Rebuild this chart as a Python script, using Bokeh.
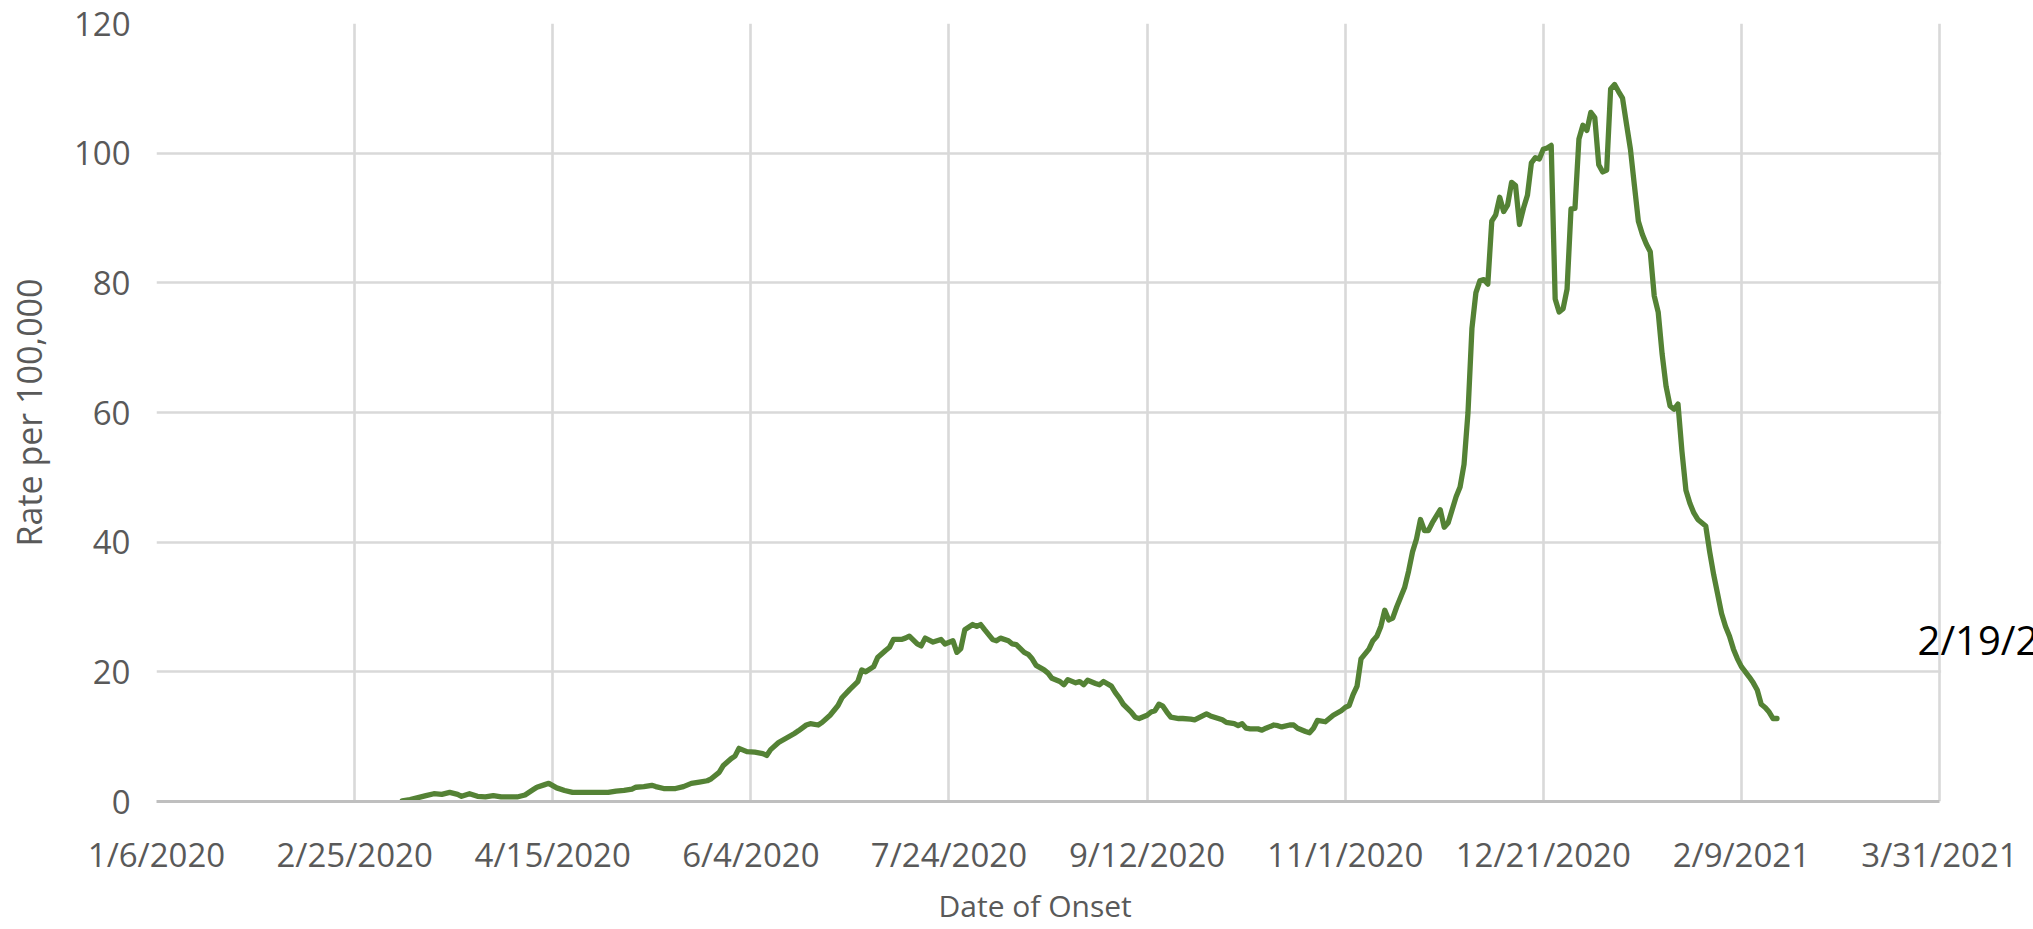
import pandas as pd
from bokeh.plotting import figure
from bokeh.models import Range1d, FixedTicker, Label, ColumnDataSource, BoxAnnotation, Title
from bokeh.embed import file_html
from bokeh.resources import INLINE

# ---------------- data ----------------
onset_dates = [
    "2020-03-08", "2020-03-10", "2020-03-12", "2020-03-14", "2020-03-16", "2020-03-18",
    "2020-03-20", "2020-03-22", "2020-03-23", "2020-03-25", "2020-03-27", "2020-03-29",
    "2020-03-31", "2020-04-02", "2020-04-04", "2020-04-06", "2020-04-08", "2020-04-10",
    "2020-04-11", "2020-04-13", "2020-04-14", "2020-04-16", "2020-04-18", "2020-04-20",
    "2020-04-23", "2020-04-26", "2020-04-29", "2020-05-01", "2020-05-03", "2020-05-05",
    "2020-05-06", "2020-05-08", "2020-05-10", "2020-05-11", "2020-05-13", "2020-05-16",
    "2020-05-18", "2020-05-20", "2020-05-22", "2020-05-24", "2020-05-25", "2020-05-27",
    "2020-05-28", "2020-05-30", "2020-05-31", "2020-06-01", "2020-06-03", "2020-06-05",
    "2020-06-07", "2020-06-08", "2020-06-09", "2020-06-11", "2020-06-13", "2020-06-15",
    "2020-06-16", "2020-06-18", "2020-06-19", "2020-06-21", "2020-06-22", "2020-06-24",
    "2020-06-26", "2020-06-27", "2020-06-29", "2020-07-01", "2020-07-02", "2020-07-03",
    "2020-07-05", "2020-07-06", "2020-07-08", "2020-07-09", "2020-07-10", "2020-07-12",
    "2020-07-13", "2020-07-14", "2020-07-16", "2020-07-17", "2020-07-18", "2020-07-20",
    "2020-07-22", "2020-07-23", "2020-07-25", "2020-07-26", "2020-07-27", "2020-07-28",
    "2020-07-30", "2020-07-31", "2020-08-01", "2020-08-02", "2020-08-04", "2020-08-05",
    "2020-08-06", "2020-08-08", "2020-08-09", "2020-08-10", "2020-08-12", "2020-08-13",
    "2020-08-14", "2020-08-15", "2020-08-17", "2020-08-18", "2020-08-19", "2020-08-21",
    "2020-08-22", "2020-08-23", "2020-08-25", "2020-08-26", "2020-08-27", "2020-08-28",
    "2020-08-30", "2020-08-31", "2020-09-01", "2020-09-03", "2020-09-04", "2020-09-05",
    "2020-09-06", "2020-09-08", "2020-09-09", "2020-09-10", "2020-09-12", "2020-09-13",
    "2020-09-14", "2020-09-15", "2020-09-16", "2020-09-17", "2020-09-18", "2020-09-20",
    "2020-09-21", "2020-09-23", "2020-09-24", "2020-09-26", "2020-09-27", "2020-09-28",
    "2020-09-30", "2020-10-01", "2020-10-02", "2020-10-04", "2020-10-05", "2020-10-06",
    "2020-10-07", "2020-10-08", "2020-10-10", "2020-10-11", "2020-10-12", "2020-10-14",
    "2020-10-15", "2020-10-16", "2020-10-18", "2020-10-19", "2020-10-20", "2020-10-22",
    "2020-10-23", "2020-10-24", "2020-10-25", "2020-10-27", "2020-10-28", "2020-10-29",
    "2020-10-31", "2020-11-01", "2020-11-02", "2020-11-03", "2020-11-04", "2020-11-05",
    "2020-11-07", "2020-11-08", "2020-11-09", "2020-11-10", "2020-11-11", "2020-11-12",
    "2020-11-13", "2020-11-14", "2020-11-15", "2020-11-16", "2020-11-17", "2020-11-18",
    "2020-11-19", "2020-11-20", "2020-11-21", "2020-11-22", "2020-11-23", "2020-11-24",
    "2020-11-25", "2020-11-26", "2020-11-27", "2020-11-28", "2020-11-29", "2020-11-30",
    "2020-12-01", "2020-12-02", "2020-12-03", "2020-12-04", "2020-12-05", "2020-12-06",
    "2020-12-07", "2020-12-08", "2020-12-09", "2020-12-10", "2020-12-11", "2020-12-12",
    "2020-12-13", "2020-12-14", "2020-12-15", "2020-12-16", "2020-12-17", "2020-12-18",
    "2020-12-19", "2020-12-20", "2020-12-21", "2020-12-22", "2020-12-23", "2020-12-24",
    "2020-12-25", "2020-12-26", "2020-12-27", "2020-12-28", "2020-12-29", "2020-12-30",
    "2020-12-31", "2021-01-01", "2021-01-02", "2021-01-03", "2021-01-04", "2021-01-05",
    "2021-01-06", "2021-01-07", "2021-01-08", "2021-01-09", "2021-01-10", "2021-01-11",
    "2021-01-12", "2021-01-13", "2021-01-14", "2021-01-15", "2021-01-16", "2021-01-17",
    "2021-01-18", "2021-01-19", "2021-01-20", "2021-01-21", "2021-01-22", "2021-01-23",
    "2021-01-24", "2021-01-25", "2021-01-26", "2021-01-27", "2021-01-28", "2021-01-29",
    "2021-01-30", "2021-01-31", "2021-02-01", "2021-02-02", "2021-02-03", "2021-02-04",
    "2021-02-05", "2021-02-06", "2021-02-07", "2021-02-08", "2021-02-09", "2021-02-10",
    "2021-02-11", "2021-02-12", "2021-02-13", "2021-02-14", "2021-02-15", "2021-02-16",
    "2021-02-17", "2021-02-18",
]

rate_per_100k = [
    0.1, 0.3, 0.6, 0.9, 1.2, 1.1,
    1.4, 1.1, 0.8, 1.2, 0.8, 0.7,
    0.9, 0.7, 0.7, 0.7, 1.0, 1.8,
    2.2, 2.6, 2.8, 2.1, 1.7, 1.4,
    1.4, 1.4, 1.4, 1.6, 1.7, 1.9,
    2.2, 2.3, 2.5, 2.3, 2.0, 2.0,
    2.3, 2.8, 3.0, 3.2, 3.5, 4.5,
    5.5, 6.6, 7.0, 8.2, 7.7, 7.6,
    7.4, 7.1, 8.0, 9.1, 9.8, 10.5,
    10.9, 11.8, 12.0, 11.8, 12.2, 13.3,
    14.8, 16.0, 17.3, 18.5, 20.3, 20.0,
    20.8, 22.2, 23.3, 23.8, 25.0, 25.0,
    25.2, 25.5, 24.3, 24.0, 25.2, 24.6,
    25.0, 24.3, 24.8, 23.0, 23.6, 26.5,
    27.3, 27.0, 27.3, 26.5, 25.0, 24.8,
    25.2, 24.8, 24.3, 24.2, 23.0, 22.7,
    22.0, 21.0, 20.3, 19.8, 19.0, 18.5,
    18.0, 18.8, 18.3, 18.5, 18.0, 18.7,
    18.2, 18.0, 18.5, 17.8, 16.8, 16.0,
    15.0, 13.8, 13.0, 12.8, 13.3, 13.8,
    14.0, 15.0, 14.7, 13.8, 13.0, 12.8,
    12.8, 12.7, 12.6, 13.2, 13.5, 13.2,
    12.8, 12.6, 12.2, 12.0, 11.7, 12.0,
    11.3, 11.2, 11.2, 11.0, 11.3, 11.8,
    11.7, 11.5, 11.8, 11.8, 11.3, 10.8,
    10.6, 11.3, 12.5, 12.3, 12.8, 13.3,
    14.0, 14.5, 14.8, 16.5, 17.8, 22.0,
    23.5, 24.8, 25.5, 27.0, 29.5, 28.0,
    28.3, 30.0, 31.5, 33.0, 35.5, 38.5,
    40.5, 43.5, 41.8, 41.8, 43.0, 44.0,
    45.0, 42.3, 43.0, 45.0, 47.0, 48.5,
    52.0, 60.0, 73.0, 78.5, 80.3, 80.5,
    79.8, 89.5, 90.5, 93.2, 91.0, 92.0,
    95.5, 95.0, 89.0, 91.5, 93.5, 98.5,
    99.3, 99.1, 100.6, 100.8, 101.2, 77.5,
    75.5, 76.0, 79.0, 91.4, 91.5, 102.2,
    104.3, 103.5, 106.3, 105.5, 98.2, 97.1,
    97.4, 109.9, 110.6, 109.5, 108.5, 104.5,
    100.6, 95.0, 89.5, 87.5, 86.0, 84.8,
    78.0, 75.5, 69.0, 64.0, 61.0, 60.5,
    61.3, 54.0, 48.0, 46.0, 44.5, 43.5,
    43.0, 42.5, 38.5, 35.0, 32.0, 29.0,
    27.0, 25.5, 23.5, 22.0, 20.8, 20.0,
    19.2, 18.3, 17.2, 15.0, 14.5, 13.8,
    12.8, 12.8,
]

x_tick_labels = ["1/6/2020", "2/25/2020", "4/15/2020", "6/4/2020", "7/24/2020",
                 "9/12/2020", "11/1/2020", "12/21/2020", "2/9/2021", "3/31/2021"]
y_ticks = [0, 20, 40, 60, 80, 100, 120]
note_text = "2/19/2021"

# ---------------- build ----------------
dates = pd.to_datetime(onset_dates)
src = ColumnDataSource(dict(date=dates, rate=rate_per_100k))

tick_ms = [float(pd.Timestamp(pd.to_datetime(t, format="%m/%d/%Y")).value / 1e6)
           for t in x_tick_labels]
overrides = {tk: lab for tk, lab in zip(tick_ms, x_tick_labels)}

W, H = 2033, 929
LEFT, TOP, BOTTOM = 156, 23, 128
PLOT_W = 1783                     # pixels from first to last date tick
DAY_MS = 86400000.0
ms_per_px = (tick_ms[-1] - tick_ms[0]) / PLOT_W
x_end = tick_ms[0] + (W - LEFT) * ms_per_px   # frame runs to the right page edge

FONT = "Open Sans"
GREY = "#595959"

p = figure(width=W, height=H, x_axis_type="datetime",
           output_backend="svg", toolbar_location=None,
           x_range=Range1d(tick_ms[0], x_end),
           y_range=Range1d(y_ticks[0], y_ticks[-1]),
           min_border_left=LEFT, min_border_right=0,
           min_border_top=TOP, min_border_bottom=BOTTOM)
p.outline_line_color = None
p.background_fill_color = "white"
p.border_fill_color = "white"

p.line(x="date", y="rate", source=src, line_color="#548235",
       line_width=5.3, line_join="round", line_cap="round")

xt = FixedTicker(ticks=tick_ms)
p.xaxis.ticker = xt
p.xaxis.major_label_overrides = overrides
p.xaxis.bounds = (tick_ms[0], tick_ms[-1])
p.xgrid.ticker = xt
yt = FixedTicker(ticks=y_ticks)
p.yaxis.ticker = yt
p.ygrid.ticker = yt

for g in (p.xgrid, p.ygrid):
    g.grid_line_color = "#d9d9d9"
    g.grid_line_width = 2.6

for ax in (p.xaxis, p.yaxis):
    ax.major_tick_line_color = None
    ax.minor_tick_line_color = None
    ax.major_tick_out = 0
    ax.major_tick_in = 0
    ax.major_label_text_font = FONT
    ax.major_label_text_font_size = "33px"
    ax.major_label_text_color = GREY
    ax.axis_label_text_font = FONT
    ax.axis_label_text_color = GREY
    ax.axis_label_text_font_style = "normal"

p.xaxis.axis_line_color = "#bfbfbf"
p.xaxis.axis_line_width = 3
p.xaxis.major_label_standoff = 30

p.yaxis.axis_line_color = None
p.yaxis.major_label_standoff = 26
p.yaxis.axis_label = "Rate per 100,000"
p.yaxis.axis_label_text_font_size = "34px"
p.yaxis.axis_label_standoff = 19

# x-axis title, centred under the dated part of the axis
x_title = Title(text="Date of Onset", align="left", offset=782,
                text_font=FONT, text_font_size="30px", text_color=GREY,
                text_font_style="normal", standoff=6)
p.add_layout(x_title, "below")

# blank out the grid to the right of the last date tick
mask = BoxAnnotation(left=tick_ms[-1] + 1.6 * ms_per_px, fill_color="white",
                     fill_alpha=1.0, line_color=None)
p.add_layout(mask)

note = Label(x=tick_ms[0] + 444.45 * DAY_MS, y=25.0,
             text=note_text, text_font=FONT, text_font_size="40px",
             text_color="black", text_baseline="alphabetic")
p.add_layout(note)

open("out.html", "w").write(file_html(p, INLINE))
